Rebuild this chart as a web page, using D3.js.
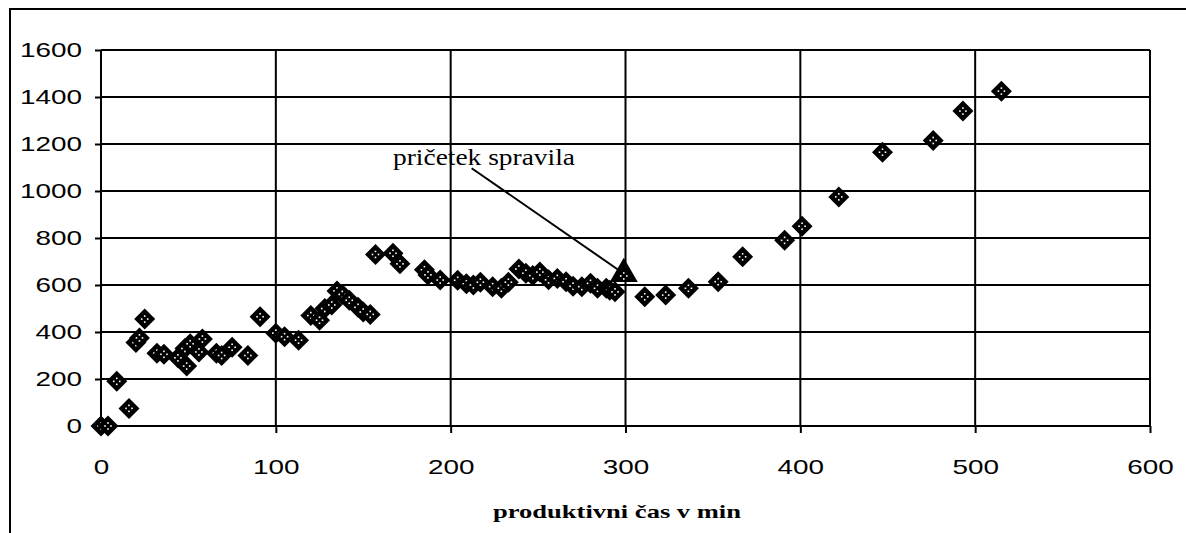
<!DOCTYPE html>
<meta charset="utf-8">
<style>
  body { margin: 0; background: #fff; }
</style>
<script src="https://d3js.org/d3.v7.min.js"></script>
<div id="chart"></div>
<script>

  // productive time in minutes and the measured value
  var times = [0, 4, 9, 16, 20, 22, 25, 32, 36, 44, 48, 49, 51, 56, 58, 66, 69, 75, 84, 91,
               100, 105, 113, 120, 125, 128, 132, 135, 138, 142, 147, 150, 154, 157, 167, 171,
               185, 187, 194, 204, 209, 213, 217, 224, 229, 233, 239, 243, 247, 251, 256, 261,
               266, 270, 275, 280, 284, 289, 291, 294,
               311, 323, 336, 353, 367, 391, 401, 422, 447, 476, 493, 515]
  var values = [0, 0, 190, 75, 355, 375, 455, 310, 305, 290, 330, 255, 350, 315, 370, 310, 300, 335, 300, 465,
                395, 380, 365, 470, 450, 500, 515, 575, 560, 535, 505, 485, 475, 730, 735, 690,
                665, 643, 621, 620, 605, 600, 612, 593, 586, 612, 668, 650, 640, 655, 622, 628,
                614, 595, 593, 607, 586, 586, 578, 571,
                550, 557, 586, 614, 720, 790, 850, 975, 1165, 1215, 1340, 1425]

  // the marked point (start of harvesting)
  var markTimes = [299]
  var markValues = [647]
  var markLabel = "pričetek spravila"
  var markLine = [[212, 1097], [296, 664]]

  var xTicks = [0, 100, 200, 300, 400, 500, 600]
  var yTicks = [0, 200, 400, 600, 800, 1000, 1200, 1400, 1600]
  var xTitle = "produktivni čas v min"

  var width = 1186
      height = 533

  var svg = d3.select("#chart")
    .append("svg")
      .attr("width", width)
      .attr("height", height)

  var x = d3.scaleLinear().domain([0, 600]).range([101, 1150])
  var y = d3.scaleLinear().domain([0, 1600]).range([426, 50])

  // outer frame of the chart
  svg.append("rect")
    .attr("x", 10)
    .attr("y", 9)
    .attr("width", width + 20)
    .attr("height", height + 20)
    .attr("fill", "none")
    .attr("stroke", "black")
    .attr("stroke-width", 2)

  // grid
  svg.selectAll("hgrid")
    .data(yTicks)
    .enter()
    .append("line")
      .attr("x1", x(0))
      .attr("x2", x(600))
      .attr("y1", function(d) { return y(d) })
      .attr("y2", function(d) { return y(d) })
      .attr("stroke", "black")
      .attr("stroke-width", 2)

  svg.selectAll("vgrid")
    .data(xTicks)
    .enter()
    .append("line")
      .attr("x1", function(d) { return x(d) })
      .attr("x2", function(d) { return x(d) })
      .attr("y1", y(0))
      .attr("y2", y(1600))
      .attr("stroke", "black")
      .attr("stroke-width", 2)

  // axes
  svg.append("g")
    .attr("transform", "translate(" + x(0) + ",0)")
    .call(d3.axisLeft(y).tickValues(yTicks).tickFormat(d3.format("d")).tickSize(6).tickPadding(13))

  svg.append("g")
    .attr("transform", "translate(0," + y(0) + ")")
    .call(d3.axisBottom(x).tickValues(xTicks).tickFormat(d3.format("d")).tickSize(7).tickPadding(26))

  svg.selectAll(".domain").remove()
  svg.selectAll(".tick line").attr("stroke", "black").attr("stroke-width", 2)
  svg.selectAll(".tick text")
    .attr("fill", "black")
    .style("font-family", "'Liberation Sans', Arial, sans-serif")
    .style("font-size", "21px")
    .attr("lengthAdjust", "spacingAndGlyphs")
    .attr("textLength", function(d) { return String(d).length * 15.5 })

  // markers: black diamonds with a ring of white dots
  var dots = [[-3, 0], [3, 0], [0, -3], [0, 3]]
  var diamond = "M0,-10.5L10.5,0L0,10.5L-10.5,0Z"

  var marks = svg.selectAll("marks")
    .data(times.map(function(t, i) { return [t, values[i]] }))
    .enter()
    .append("g")
      .attr("transform", function(d) { return "translate(" + x(d[0]) + "," + y(d[1]) + ")" })

  marks.append("path")
    .attr("d", diamond)
    .attr("fill", "black")

  marks.selectAll("rect")
    .data(dots)
    .enter()
    .append("rect")
      .attr("x", function(d) { return d[0] - 0.8 })
      .attr("y", function(d) { return d[1] - 0.8 })
      .attr("width", 1.6)
      .attr("height", 1.6)
      .attr("fill", "white")

  // annotation arrow line
  svg.append("line")
    .attr("x1", x(markLine[0][0]))
    .attr("y1", y(markLine[0][1]))
    .attr("x2", x(markLine[1][0]))
    .attr("y2", y(markLine[1][1]))
    .attr("stroke", "black")
    .attr("stroke-width", 2)

  // the triangle marker
  var tri = svg.selectAll("tri")
    .data(markTimes.map(function(t, i) { return [t, markValues[i]] }))
    .enter()
    .append("g")
      .attr("transform", function(d) { return "translate(" + x(d[0]) + "," + y(d[1]) + ")" })

  tri.append("path")
    .attr("d", d3.symbol().type(d3.symbolTriangle).size(340))
    .attr("fill", "black")

  tri.selectAll("rect")
    .data(dots)
    .enter()
    .append("rect")
      .attr("x", function(d) { return d[0] - 0.8 })
      .attr("y", function(d) { return d[1] + 1.2 })
      .attr("width", 1.6)
      .attr("height", 1.6)
      .attr("fill", "white")

  svg.append("text")
    .attr("x", 393)
    .attr("y", 165)
    .attr("textLength", 182)
    .attr("lengthAdjust", "spacingAndGlyphs")
    .style("font-family", "'Liberation Serif', 'Times New Roman', serif")
    .style("font-size", "23px")
    .text(markLabel)

  // axis title
  svg.append("text")
    .attr("x", 617)
    .attr("y", 518)
    .attr("text-anchor", "middle")
    .attr("textLength", 248)
    .attr("lengthAdjust", "spacingAndGlyphs")
    .style("font-family", "'Liberation Serif', 'Times New Roman', serif")
    .style("font-weight", "bold")
    .style("font-size", "19px")
    .text(xTitle)

</script>
